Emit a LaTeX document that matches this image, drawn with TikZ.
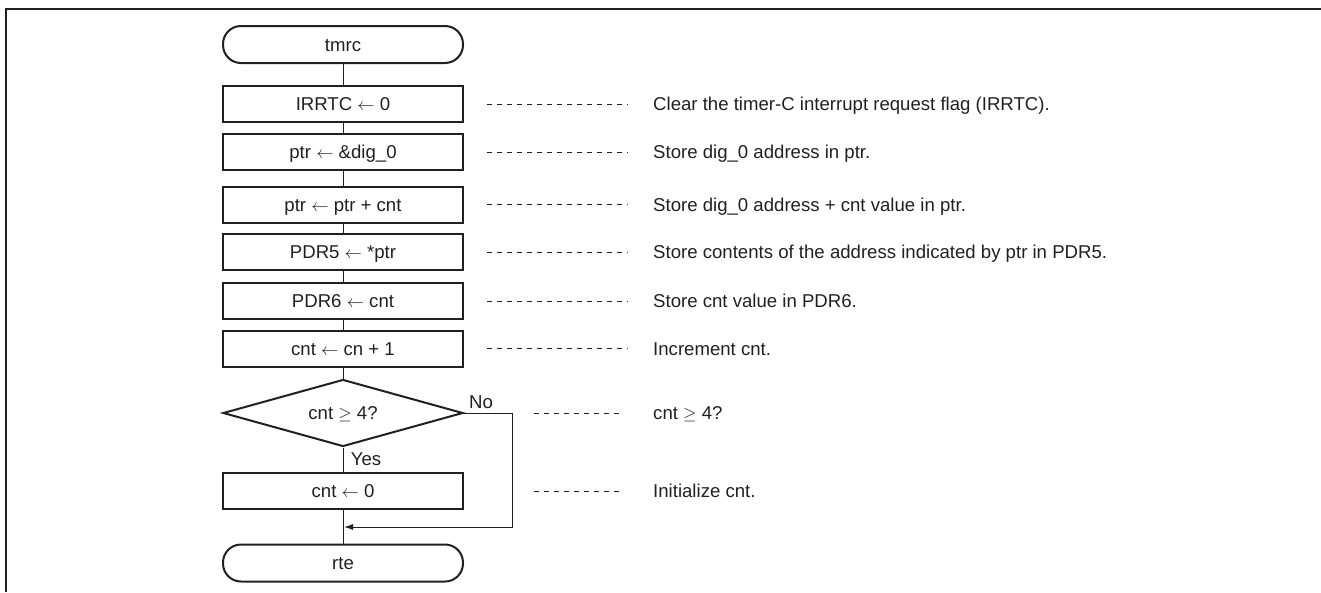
\documentclass[tikz,border=0pt]{standalone}
\usepackage{fontspec}
\setmainfont{Liberation Sans}
\usetikzlibrary{shapes.geometric,arrows.meta}
\definecolor{ink}{HTML}{231F20}
\begin{document}
\begin{tikzpicture}[x=1pt,y=-1pt,
  every node/.style={font=\fontsize{18.6}{22}\selectfont, text=ink, text height=13.3pt, text depth=0pt, inner sep=0pt},
  procbox/.style={draw=ink, line width=2pt, minimum width=240pt, minimum height=36pt},
  termbox/.style={draw=ink, line width=2pt, rounded corners=18pt, minimum width=240pt, minimum height=37pt},
  decbox/.style={draw=ink, diamond, line width=2pt, minimum width=240pt, minimum height=67pt, aspect=3.6},
  conn/.style={draw=ink, line width=1pt},
  leader/.style={draw=ink, line width=1pt, dash pattern=on 5pt off 5pt},
  note/.style={anchor=west},
  ]
\useasboundingbox (0,0) rectangle (1321,592);
% frame
\draw[line width=2pt, ink] (6,592) -- (6,9) -- (1321,9);

% flow nodes
\node[termbox] (t1) at (343,44.5) {tmrc};
\node[procbox] (b1) at (343,104) {IRRTC $\leftarrow$ 0};
\node[procbox] (b2) at (343,152) {ptr $\leftarrow$ \&dig\_0};
\node[procbox] (b3) at (343,204.5) {ptr $\leftarrow$ ptr + cnt};
\node[procbox] (b4) at (343,252) {PDR5 $\leftarrow$ *ptr};
\node[procbox] (b5) at (343,301) {PDR6 $\leftarrow$ cnt};
\node[procbox] (b6) at (343,348.5) {cnt $\leftarrow$ cn + 1};
\node[decbox] (d) at (343,413) {cnt $\geq$ 4?};
\node[procbox] (b7) at (343,491) {cnt $\leftarrow$ 0};
\node[termbox] (t2) at (343,563) {rte};

% labels
\node (no) at (481,402) {No};
\node (yes) at (366,459) {Yes};

% connectors
\draw[conn] (t1) -- (b1);
\draw[conn] (b1) -- (b2);
\draw[conn] (b2) -- (b3);
\draw[conn] (b3) -- (b4);
\draw[conn] (b4) -- (b5);
\draw[conn] (b5) -- (b6);
\draw[conn] (b6) -- (d);
\draw[conn] (d) -- (b7);
\draw[conn] (b7) -- (t2);
\coordinate (j) at (344,527);
\draw[conn, -{Latex[length=9pt,width=6pt]}] (d.east) -- ++(48,0) |- (j);

% notes
\node[note] (c1) at (653,104) {Clear the timer-C interrupt request flag (IRRTC).};
\node[note] (c2) at (653,152) {Store dig\_0 address in ptr.};
\node[note] (c3) at (653,204.5) {Store dig\_0 address + cnt value in ptr.};
\node[note] (c4) at (653,252) {Store contents of the address indicated by ptr in PDR5.};
\node[note] (c5) at (653,301) {Store cnt value in PDR6.};
\node[note] (c6) at (653,348.5) {Increment cnt.};
\node[note] (c7) at (653,413) {cnt $\geq$ 4?};
\node[note] (c8) at (653,491) {Initialize cnt.};

\foreach \b/\c in {b1/c1,b2/c2,b3/c3,b4/c4,b5/c5,b6/c6}
  \draw[leader] ([xshift=23pt]\b.east) -- ([xshift=-25pt]\c.west);
\draw[leader] ([xshift=70pt]d.east) -- ([xshift=-32pt]c7.west);
\draw[leader] ([xshift=70pt]b7.east) -- ([xshift=-32pt]c8.west);
\end{tikzpicture}
\end{document}
